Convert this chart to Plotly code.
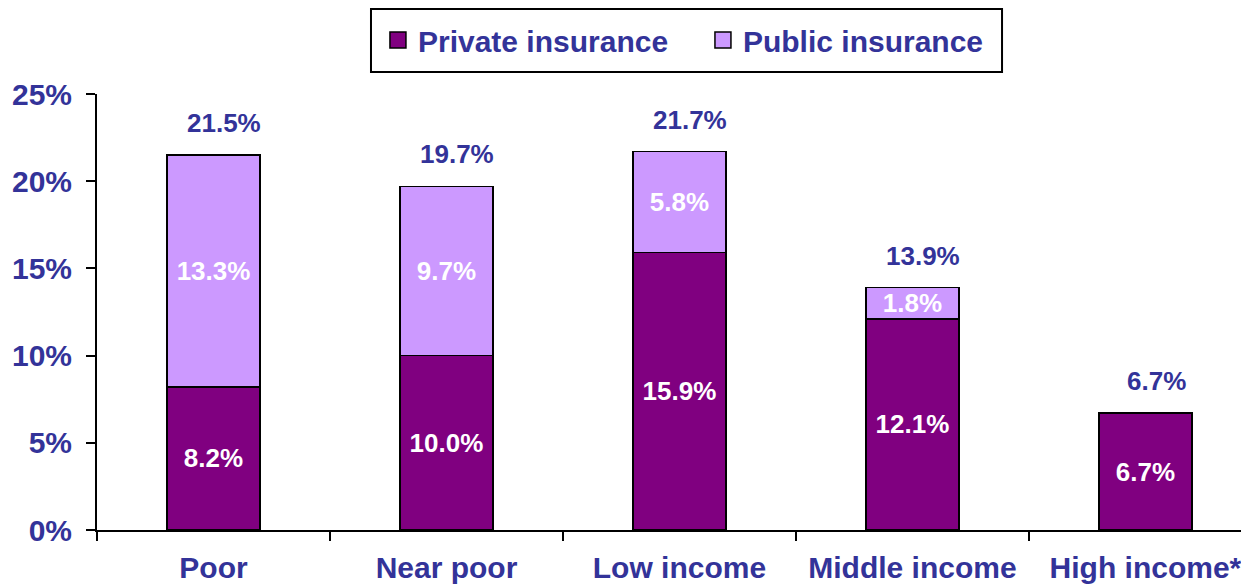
import plotly.graph_objects as go

categories = ["Poor", "Near poor", "Low income", "Middle income", "High income*"]
private_vals = [8.2, 10.0, 15.9, 12.1, 6.7]
public_vals = [13.3, 9.7, 5.8, 1.8, 0.0]
y_ticks = [0, 5, 10, 15, 20, 25]
y_tick_text = ["0%", "5%", "10%", "15%", "20%", "25%"]

BLUE = "#333399"
FONT = "Liberation Sans, Arial, sans-serif"
series = [("Private insurance", private_vals, "#800080"),
          ("Public insurance", public_vals, "#CC99FF")]

def lbl(vals):
    return [f"{v:.1f}%" if v > 0 else "" for v in vals]

fig = go.Figure()
for name, vals, color in series:
    fig.add_trace(go.Bar(
        x=categories, y=vals, name=name, legendgroup=name, showlegend=False,
        marker=dict(color=color, line=dict(color="black", width=1.5)),
        text=lbl(vals), textposition="inside", insidetextanchor="middle",
        constraintext="none",
        textfont=dict(family=FONT, size=26, color="white", weight="bold"),
        width=0.4,
    ))
# legend entries with larger square swatches
for name, vals, color in series:
    fig.add_trace(go.Scatter(
        x=[None], y=[None], mode="markers", name=name, legendgroup=name,
        marker=dict(symbol="square", size=18, color=color,
                    line=dict(color="black", width=1.5)),
    ))

for c, a, b in zip(categories, private_vals, public_vals):
    t = a + b
    fig.add_annotation(x=c, y=t, text=f"{t:.1f}%", showarrow=False,
                       yanchor="bottom", yshift=15, xshift=11,
                       font=dict(family=FONT, size=26, color=BLUE, weight="bold"))

# legend frame
fig.add_shape(type="rect", xref="paper", yref="paper",
              x0=0.2362, x1=0.7802, y0=1.0505, y1=1.1950,
              line=dict(color="black", width=2), fillcolor="rgba(0,0,0,0)")

fig.update_layout(
    barmode="stack",
    width=1249, height=584,
    margin=dict(l=89, r=0, t=86, b=62),
    plot_bgcolor="white", paper_bgcolor="white",
    showlegend=True,
    legend=dict(orientation="h", x=0.2422, xanchor="left", y=1.1239, yanchor="middle",
                bgcolor="rgba(0,0,0,0)", borderwidth=0, itemsizing="trace",
                entrywidth=280, entrywidthmode="pixels",
                font=dict(family=FONT, size=30, color=BLUE, weight="bold"),
                traceorder="normal"),
    xaxis=dict(type="category", range=[-0.5, 4.479], tickson="boundaries",
               ticks="outside", ticklen=9, tickwidth=1.5, tickcolor="black",
               showline=True, linecolor="black", linewidth=2, showgrid=False,
               ticklabelstandoff=10,
               tickfont=dict(family=FONT, size=30, color=BLUE, weight="bold")),
    yaxis=dict(range=[0, 25], tickvals=y_ticks, ticktext=y_tick_text,
               ticks="outside", ticklen=9, tickwidth=1.5, tickcolor="black",
               showline=True, linecolor="black", linewidth=2, showgrid=False,
               zeroline=False, ticklabelstandoff=8,
               tickfont=dict(family=FONT, size=30, color=BLUE, weight="bold")),
)

fig.write_html("out.html")
